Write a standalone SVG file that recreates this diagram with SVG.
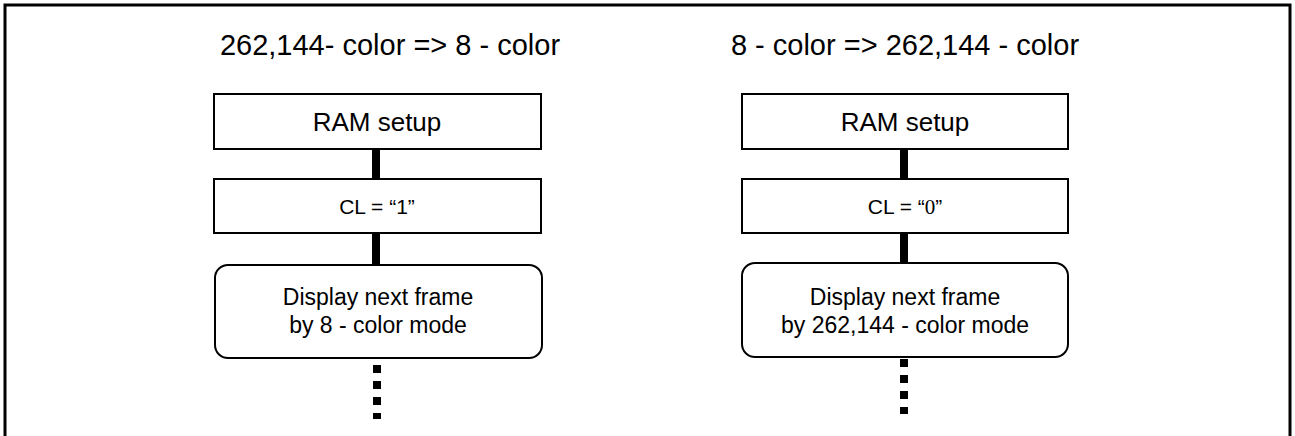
<svg xmlns="http://www.w3.org/2000/svg" width="1295" height="436" viewBox="0 0 1295 436">
<style>
  .frame{fill:none;stroke:#000;stroke-width:3}
  .box{fill:#fff;stroke:#000;stroke-width:2}
  .t{font-family:"Liberation Sans",Arial,sans-serif;fill:#000;text-anchor:middle}
  .title{font-size:29px}
  .lbl{font-size:26px}
  .cl{font-size:21px}
  .disp{font-size:23px}
  .conn{stroke:#000;stroke-width:8;fill:none}
  .dots{stroke:#000;stroke-width:8;fill:none;stroke-dasharray:8 8}
</style>
<rect width="1295" height="436" fill="#fff"/>
<path class="frame" d="M5,436 V5 H1290 V436"/>
<text class="t title" x="390" y="55">262,144- color =&gt; 8 - color</text>
<text class="t title" x="905" y="55">8 - color =&gt; 262,144 - color</text>
<g id="connectors">
  <line class="conn" x1="376" y1="149" x2="376" y2="179"/>
  <line class="conn" x1="376" y1="233" x2="376" y2="264"/>
  <line class="dots" x1="377" y1="365" x2="377" y2="419"/>
  <line class="conn" x1="904" y1="149" x2="904" y2="179"/>
  <line class="conn" x1="904" y1="233" x2="904" y2="263"/>
  <line class="dots" x1="904" y1="359" x2="904" y2="414"/>
</g>
<g id="left-ram">
  <rect class="box" x="214" y="94" width="327" height="55"/>
  <text class="t lbl" x="377" y="131">RAM setup</text>
</g>
<g id="left-cl">
  <rect class="box" x="214" y="179" width="327" height="54"/>
  <text class="t cl" x="377" y="214">CL = “1”</text>
</g>
<g id="left-display">
  <rect class="box" x="215" y="265" width="327" height="93" rx="13"/>
  <text class="t disp" x="378" y="305">Display next frame</text>
  <text class="t disp" x="378" y="333">by 8 - color mode</text>
</g>
<g id="right-ram">
  <rect class="box" x="742" y="94" width="326" height="55"/>
  <text class="t lbl" x="905" y="131">RAM setup</text>
</g>
<g id="right-cl">
  <rect class="box" x="742" y="179" width="326" height="54"/>
  <text class="t cl" x="905" y="214">CL = “<tspan font-family="'Liberation Serif',serif">0</tspan>”</text>
</g>
<g id="right-display">
  <rect class="box" x="742" y="263" width="326" height="94" rx="13"/>
  <text class="t disp" x="905" y="305">Display next frame</text>
  <text class="t disp" x="905" y="333">by 262,144 - color mode</text>
</g>
</svg>
